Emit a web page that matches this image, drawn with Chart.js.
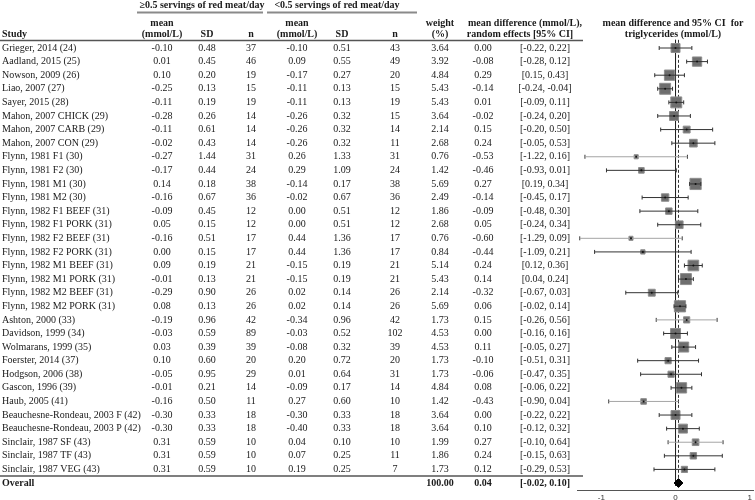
<!DOCTYPE html>
<html>
<head>
<meta charset="utf-8">
<script src="https://cdn.jsdelivr.net/npm/chart.js@4.4.1/dist/chart.umd.min.js"></script>
<style>
  html, body { margin: 0; padding: 0; background: #fff; }
  #wrap { width: 755px; height: 500px; position: relative; }
</style>
</head>
<body>
<div id="wrap"><canvas id="forest"></canvas></div>
<script>
// table data
const studies = [
  'Grieger, 2014 (24)', 'Aadland, 2015 (25)', 'Nowson, 2009 (26)', 'Liao, 2007 (27)',
  'Sayer, 2015 (28)', 'Mahon, 2007 CHICK (29)', 'Mahon, 2007 CARB (29)', 'Mahon, 2007 CON (29)',
  'Flynn, 1981 F1 (30)', 'Flynn, 1981 F2 (30)', 'Flynn, 1981 M1 (30)', 'Flynn, 1981 M2 (30)',
  'Flynn, 1982 F1 BEEF (31)', 'Flynn, 1982 F1 PORK (31)', 'Flynn, 1982 F2 BEEF (31)', 'Flynn, 1982 F2 PORK (31)',
  'Flynn, 1982 M1 BEEF (31)', 'Flynn, 1982 M1 PORK (31)', 'Flynn, 1982 M2 BEEF (31)', 'Flynn, 1982 M2 PORK (31)',
  'Ashton, 2000 (33)', 'Davidson, 1999 (34)', 'Wolmarans, 1999 (35)', 'Foerster, 2014 (37)',
  'Hodgson, 2006 (38)', 'Gascon, 1996 (39)', 'Haub, 2005 (41)', 'Beauchesne-Rondeau, 2003 F (42)',
  'Beauchesne-Rondeau, 2003 P (42)', 'Sinclair, 1987 SF (43)', 'Sinclair, 1987 TF (43)', 'Sinclair, 1987 VEG (43)'
];
const highMean = [-0.10, 0.01, 0.10, -0.25, -0.11, -0.28, -0.11, -0.02, -0.27, -0.17, 0.14, -0.16, -0.09, 0.05, -0.16, 0.00,
  0.09, -0.01, -0.29, 0.08, -0.19, -0.03, 0.03, 0.10, -0.05, -0.01, -0.16, -0.30, -0.30, 0.31, 0.31, 0.31];
const highSD = [0.48, 0.45, 0.20, 0.13, 0.19, 0.26, 0.61, 0.43, 1.44, 0.44, 0.18, 0.67, 0.45, 0.15, 0.51, 0.15,
  0.19, 0.13, 0.90, 0.13, 0.96, 0.59, 0.39, 0.60, 0.95, 0.21, 0.50, 0.33, 0.33, 0.59, 0.59, 0.59];
const highN = [37, 46, 19, 15, 19, 14, 14, 14, 31, 24, 38, 36, 12, 12, 17, 17,
  21, 21, 26, 26, 42, 89, 39, 20, 29, 14, 11, 18, 18, 10, 10, 10];
const lowMean = [-0.10, 0.09, -0.17, -0.11, -0.11, -0.26, -0.26, -0.26, 0.26, 0.29, -0.14, -0.02, 0.00, 0.00, 0.44, 0.44,
  -0.15, -0.15, 0.02, 0.02, -0.34, -0.03, -0.08, 0.20, 0.01, -0.09, 0.27, -0.30, -0.40, 0.04, 0.07, 0.19];
const lowSD = [0.51, 0.55, 0.27, 0.13, 0.13, 0.32, 0.32, 0.32, 1.33, 1.09, 0.17, 0.67, 0.51, 0.51, 1.36, 1.36,
  0.19, 0.19, 0.14, 0.14, 0.96, 0.52, 0.32, 0.72, 0.64, 0.17, 0.60, 0.33, 0.33, 0.10, 0.25, 0.25];
const lowN = [43, 49, 20, 15, 19, 15, 14, 11, 31, 24, 38, 36, 12, 12, 17, 17,
  21, 21, 26, 26, 42, 102, 39, 20, 31, 14, 10, 18, 18, 10, 11, 7];
const weights = [3.64, 3.92, 4.84, 5.43, 5.43, 3.64, 2.14, 2.68, 0.76, 1.42, 5.69, 2.49, 1.86, 2.68, 0.76, 0.84,
  5.14, 5.43, 2.14, 5.69, 1.73, 4.53, 4.53, 1.73, 1.73, 4.84, 1.42, 3.64, 3.64, 1.99, 1.86, 1.73];
const meanDiff = [0.00, -0.08, 0.29, -0.14, 0.01, -0.02, 0.15, 0.24, -0.53, -0.46, 0.27, -0.14, -0.09, 0.05, -0.60, -0.44,
  0.24, 0.14, -0.32, 0.06, 0.15, 0.00, 0.11, -0.10, -0.06, 0.08, -0.43, 0.00, 0.10, 0.27, 0.24, 0.12];
const ciLow = [-0.22, -0.28, 0.15, -0.24, -0.09, -0.24, -0.20, -0.05, -1.22, -0.93, 0.19, -0.45, -0.48, -0.24, -1.29, -1.09,
  0.12, 0.04, -0.67, -0.02, -0.26, -0.16, -0.05, -0.51, -0.47, -0.06, -0.90, -0.22, -0.12, -0.10, -0.15, -0.29];
const ciHigh = [0.22, 0.12, 0.43, -0.04, 0.11, 0.20, 0.50, 0.53, 0.16, 0.01, 0.34, 0.17, 0.30, 0.34, 0.09, 0.21,
  0.36, 0.24, 0.03, 0.14, 0.56, 0.16, 0.27, 0.31, 0.35, 0.22, 0.04, 0.22, 0.32, 0.64, 0.63, 0.53];
const overall = { weight: 100.00, mean: 0.04, low: -0.02, high: 0.10 };

// what the plot actually shows (rows 2 and 3 are drawn swapped in the source figure)
const plotMean = [0.00, 0.29, -0.08, -0.14, 0.01, -0.02, 0.15, 0.24, -0.53, -0.46, 0.27, -0.14, -0.09, 0.05, -0.60, -0.44,
  0.24, 0.14, -0.32, 0.06, 0.15, 0.00, 0.11, -0.10, -0.06, 0.08, -0.43, 0.00, 0.10, 0.27, 0.24, 0.12];
const plotLow = [-0.22, 0.15, -0.28, -0.24, -0.09, -0.24, -0.20, -0.05, -1.22, -0.93, 0.19, -0.45, -0.48, -0.24, -1.29, -1.09,
  0.12, 0.04, -0.67, -0.02, -0.26, -0.16, -0.05, -0.51, -0.47, -0.06, -0.90, -0.22, -0.12, -0.10, -0.15, -0.29];
const plotHigh = [0.22, 0.43, 0.12, -0.04, 0.11, 0.20, 0.50, 0.53, 0.16, 0.01, 0.34, 0.17, 0.30, 0.34, 0.09, 0.21,
  0.36, 0.24, 0.03, 0.14, 0.56, 0.16, 0.27, 0.31, 0.35, 0.22, 0.04, 0.22, 0.32, 0.64, 0.63, 0.53];
const tickValues = [-1, 0, 1];

const lightRows = [8, 14, 20, 26, 29];
const overallRow = studies.length;

const f2 = v => v.toFixed(2);

const whiskerData = [];
const capData = [];
studies.forEach((s, i) => {
  whiskerData.push({ x: plotLow[i], y: i }, { x: plotHigh[i], y: i }, { x: null, y: null });
  capData.push({ x: plotLow[i], y: i }, { x: plotHigh[i], y: i });
});
const boxData = studies.map((s, i) => ({ x: plotMean[i], y: i }));
const boxRadius = weights.map(w => 4.7 * Math.sqrt(w) / Math.SQRT2);

const serif = '"Liberation Serif", "Times New Roman", serif';

const tablePlugin = {
  id: 'tableText',
  afterDraw(chart) {
    const { ctx, scales: { y } } = chart;
    ctx.save();
    ctx.fillStyle = '#1a1a1a';
    ctx.textBaseline = 'middle';

    const txt = (s, x, py, align, bold) => {
      ctx.font = (bold ? 'bold ' : '') + '10px ' + serif;
      ctx.textAlign = align || 'center';
      ctx.fillText(s, x, py);
    };

    // group headings
    txt('\u22650.5 servings of red meat/day', 202, 5, 'center', true);
    txt('<0.5 servings of red meat/day', 337, 5, 'center', true);
    ctx.strokeStyle = '#8a8a8a';
    ctx.lineWidth = 2;
    ctx.beginPath();
    ctx.moveTo(137, 12.5); ctx.lineTo(263, 12.5);
    ctx.moveTo(267, 12.5); ctx.lineTo(417, 12.5);
    ctx.stroke();

    // column headings
    txt('mean', 162, 23, 'center', true);
    txt('mean', 297, 23, 'center', true);
    txt('weight', 440, 23, 'center', true);
    txt('mean difference (mmol/L),', 525, 23, 'center', true);
    txt('mean difference and 95% CI  for', 673, 23, 'center', true);
    txt('Study', 2, 34, 'left', true);
    txt('(mmol/L)', 162, 34, 'center', true);
    txt('SD', 207, 34, 'center', true);
    txt('n', 251, 34, 'center', true);
    txt('(mmol/L)', 297, 34, 'center', true);
    txt('SD', 342, 34, 'center', true);
    txt('n', 395, 34, 'center', true);
    txt('(%)', 440, 34, 'center', true);
    txt('random effects [95% CI]', 520, 34, 'center', true);
    txt('triglycerides (mmol/L)', 673, 34, 'center', true);

    ctx.strokeStyle = '#555';
    ctx.lineWidth = 1.5;
    ctx.beginPath();
    ctx.moveTo(0, 40.5); ctx.lineTo(583, 40.5);
    ctx.moveTo(0, 476); ctx.lineTo(583, 476);
    ctx.stroke();

    studies.forEach((s, i) => {
      const py = y.getPixelForValue(i);
      txt(s, 2, py, 'left');
      txt(f2(highMean[i]), 162, py);
      txt(f2(highSD[i]), 207, py);
      txt(String(highN[i]), 251, py);
      txt(f2(lowMean[i]), 297, py);
      txt(f2(lowSD[i]), 342, py);
      txt(String(lowN[i]), 395, py);
      txt(f2(weights[i]), 440, py);
      txt(f2(meanDiff[i]), 483, py);
      txt('[' + f2(ciLow[i]) + ', ' + f2(ciHigh[i]) + ']', 545, py);
    });

    const oy = y.getPixelForValue(overallRow);
    txt('Overall', 2, oy, 'left', true);
    txt(f2(overall.weight), 440, oy, 'center', true);
    txt(f2(overall.mean), 483, oy, 'center', true);
    txt('[' + f2(overall.low) + ', ' + f2(overall.high) + ']', 545, oy, 'center', true);
    ctx.restore();
  }
};

new Chart(document.getElementById('forest'), {
  type: 'scatter',
  data: {
    datasets: [
      {
        label: 'centre',
        data: boxData,
        pointStyle: 'circle',
        pointRadius: 1,
        pointBackgroundColor: '#111',
        pointBorderWidth: 0,
        order: 0
      },
      {
        label: 'whiskers',
        data: whiskerData,
        showLine: true,
        spanGaps: false,
        borderWidth: 1,
        borderColor: '#333',
        pointRadius: 0,
        segment: {
          borderColor: c => lightRows.includes(Math.floor(c.p0DataIndex / 3)) ? '#a5a5a5' : '#333'
        },
        order: 1
      },
      {
        label: 'caps',
        data: capData,
        pointStyle: 'line',
        rotation: 90,
        pointRadius: 2,
        pointBorderColor: '#333',
        pointBorderWidth: 1,
        order: 2
      },
      {
        label: 'boxes',
        data: boxData,
        pointStyle: 'rect',
        pointRadius: boxRadius,
        pointBackgroundColor: '#6e6e6e',
        pointBorderColor: '#8e8e8e',
        pointBorderWidth: 1,
        order: 3
      },
      {
        label: 'overall',
        data: [{ x: overall.mean, y: overallRow }],
        pointStyle: 'rectRot',
        pointRadius: c => {
          const s = c.chart.scales.x;
          return (s.getPixelForValue(overall.high) - s.getPixelForValue(overall.low)) / 2;
        },
        pointBackgroundColor: '#000',
        pointBorderColor: '#000',
        pointBorderWidth: 1,
        order: 4
      },
      {
        label: 'zero',
        data: [{ x: 0, y: -0.6 }, { x: 0, y: overallRow + 0.2 }],
        showLine: true,
        borderColor: '#222',
        borderWidth: 1,
        pointRadius: 0,
        order: 5
      },
      {
        label: 'pooled',
        data: [{ x: overall.mean, y: -0.6 }, { x: overall.mean, y: overallRow + 0.2 }],
        showLine: true,
        borderColor: '#333',
        borderWidth: 1,
        borderDash: [3, 2],
        pointRadius: 0,
        order: 6
      }
    ]
  },
  options: {
    responsive: true,
    maintainAspectRatio: false,
    animation: false,
    layout: { autoPadding: false, padding: { left: 577, right: 0, top: 0, bottom: 0 } },
    plugins: { legend: { display: false }, tooltip: { enabled: false } },
    scales: {
      x: {
        type: 'linear',
        min: -1.327,
        max: 1.047,
        grid: { display: false, drawTicks: false },
        border: { display: true, color: '#555', width: 1 },
        ticks: {
          padding: 3,
          color: '#333',
          font: { family: '"Liberation Sans", Arial, sans-serif', size: 8 }
        },
        afterBuildTicks: s => { s.ticks = tickValues.map(v => ({ value: v })); },
        afterFit: s => { s.height = 10; }
      },
      y: {
        type: 'linear',
        reverse: true,
        min: -3.531,
        max: 32.514,
        display: false
      }
    }
  },
  plugins: [tablePlugin]
});
</script>
</body>
</html>
